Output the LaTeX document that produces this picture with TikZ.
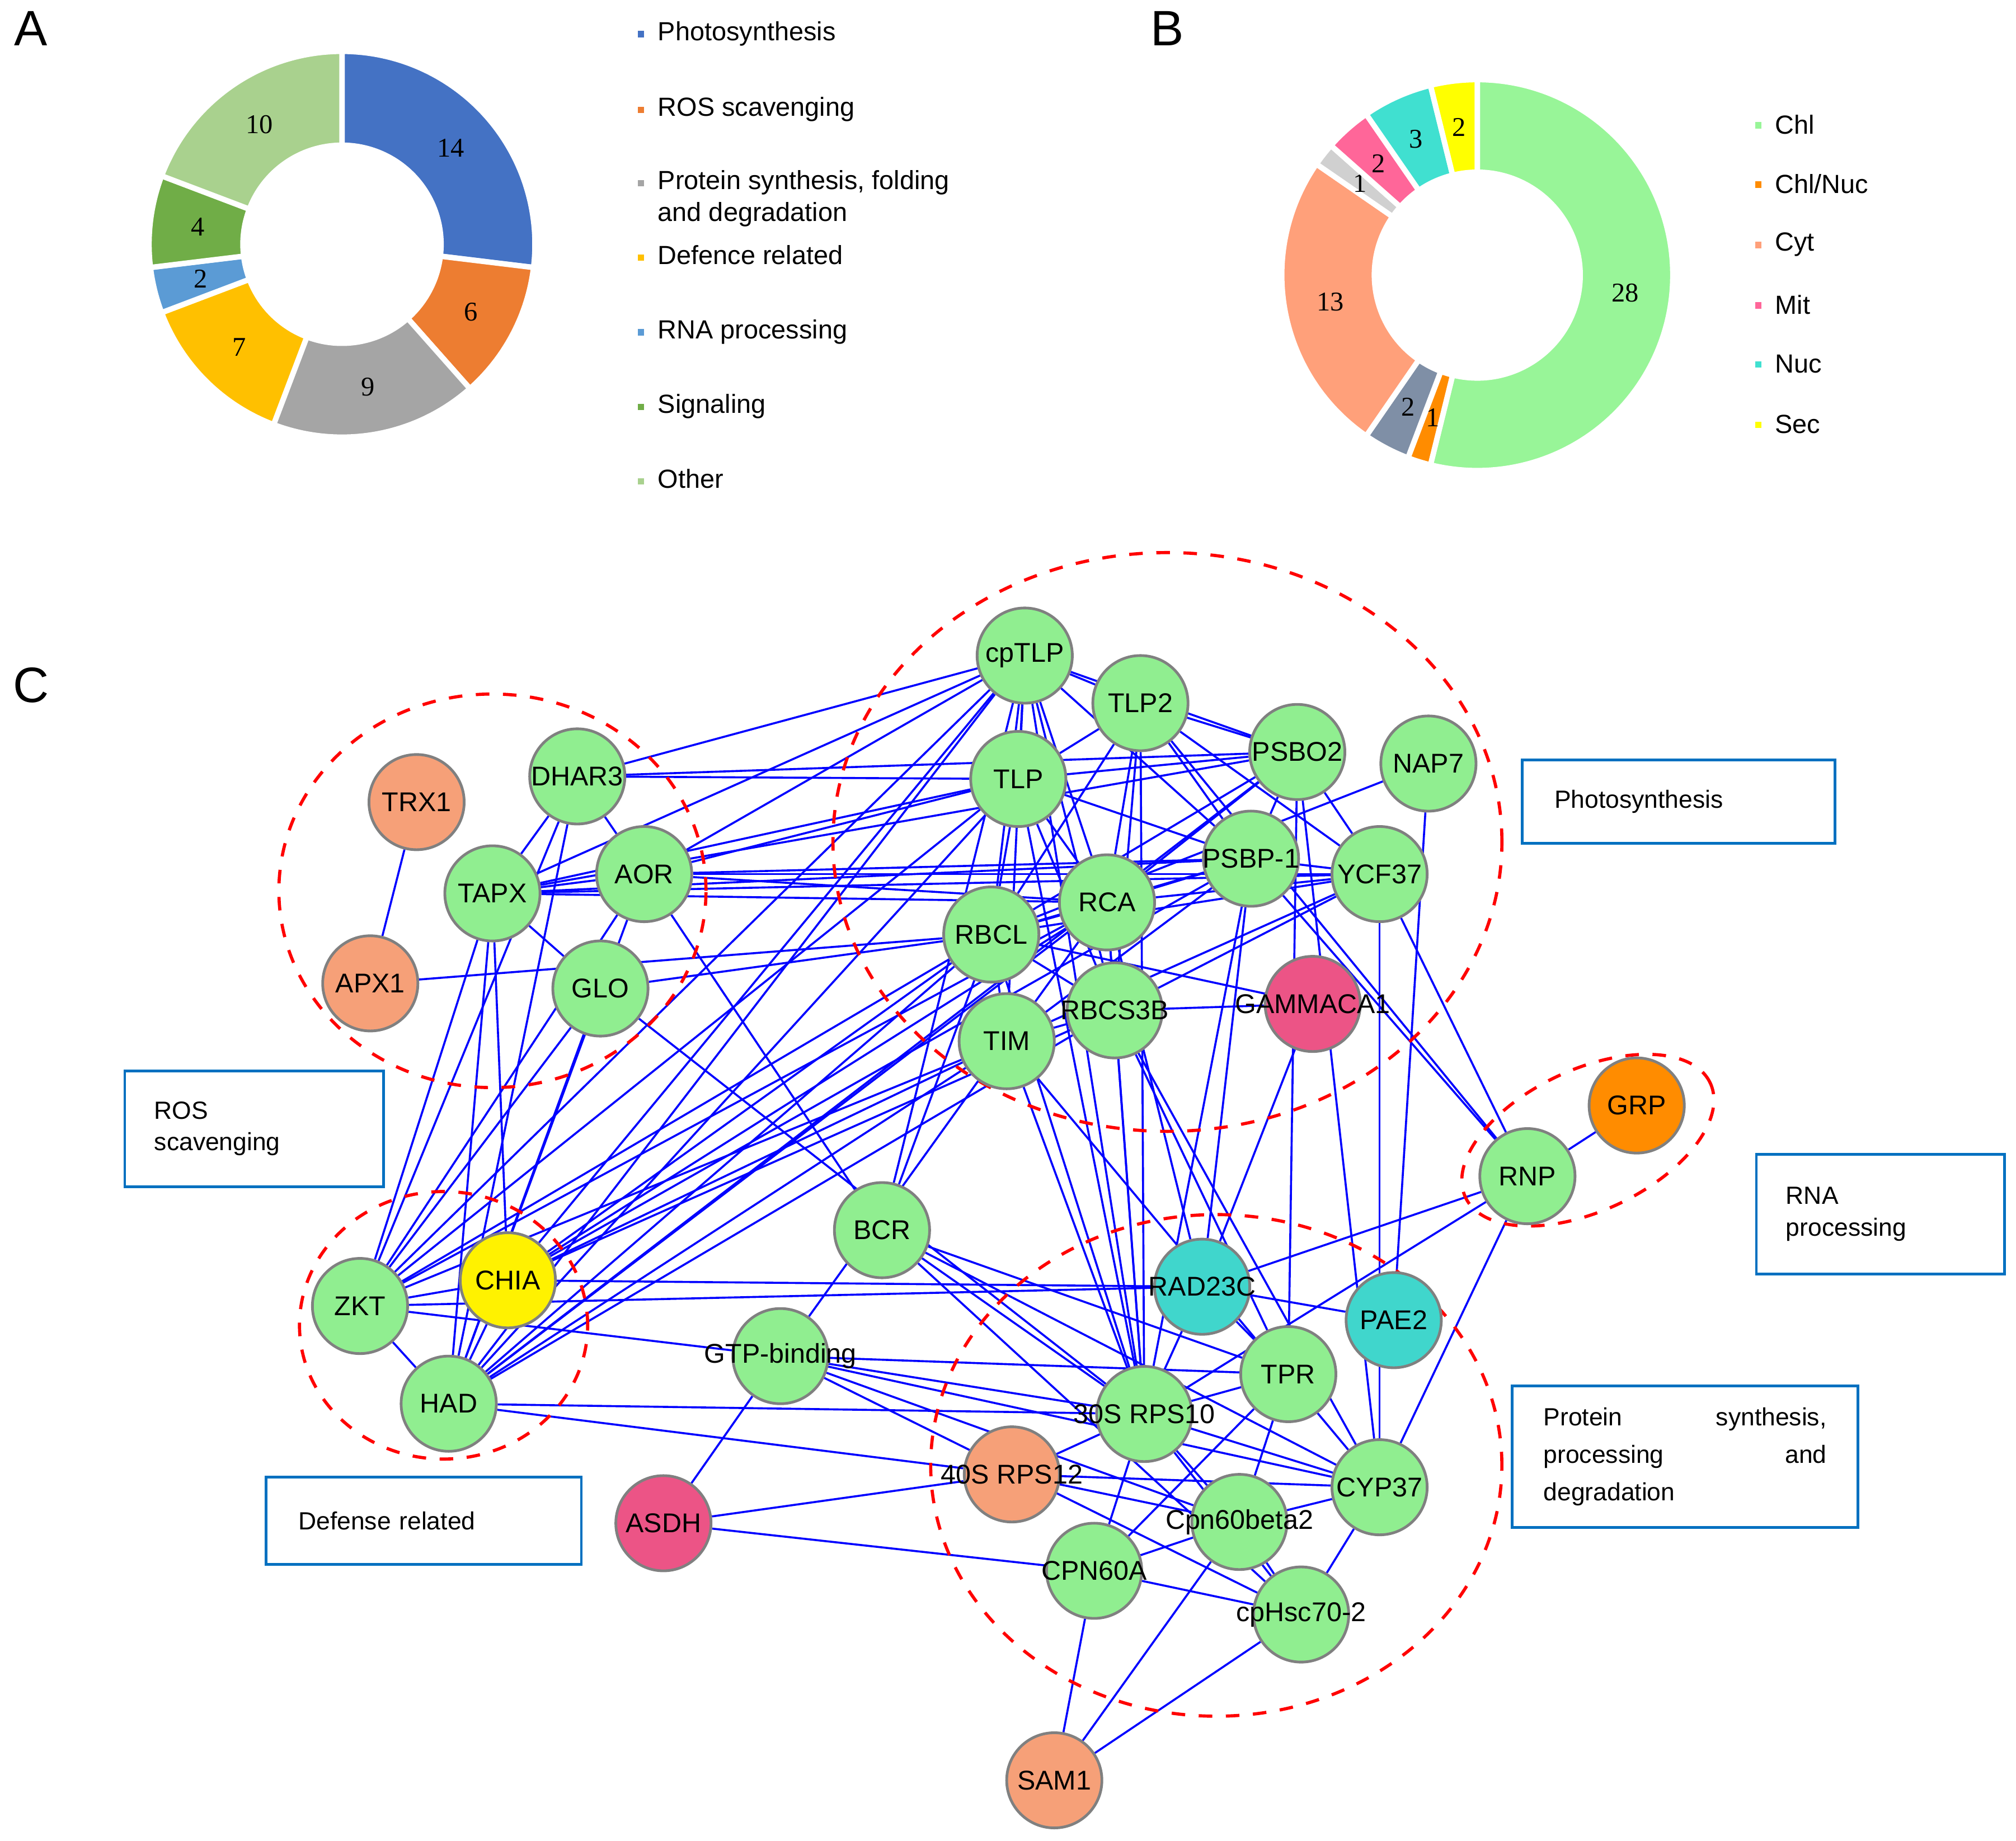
\documentclass[tikz,border=0pt]{standalone}
\usepackage{fontspec}
\setmainfont{Liberation Sans}
\newfontfamily\numfont{Liberation Serif}
\usetikzlibrary{backgrounds,calc}
\definecolor{gnode}{RGB}{144,238,144}
\definecolor{snode}{RGB}{246,160,120}
\definecolor{pnode}{RGB}{236,84,134}
\definecolor{cnode}{RGB}{64,214,204}
\definecolor{onode}{RGB}{255,140,0}
\definecolor{boxblue}{RGB}{0,112,192}
\definecolor{cPhoto}{HTML}{4472C4}
\definecolor{cROS}{HTML}{ED7D31}
\definecolor{cProt}{HTML}{A5A5A5}
\definecolor{cDef}{HTML}{FFC000}
\definecolor{cRNA}{HTML}{5B9BD5}
\definecolor{cSig}{HTML}{70AD47}
\definecolor{cOther}{HTML}{A9D18E}
\definecolor{cChl}{HTML}{98F598}
\definecolor{cChlNuc}{HTML}{FF8C00}
\definecolor{cGrayB}{HTML}{7F8FA6}
\definecolor{cCyt}{HTML}{FFA07A}
\definecolor{cLGray}{HTML}{D0D0D0}
\definecolor{cMit}{HTML}{FF6699}
\definecolor{cNuc}{HTML}{40E0D0}
\definecolor{cSec}{HTML}{FFFF00}
\newcommand\nm[1]{\makebox[0pt]{#1}}
\tikzset{
  prot/.style={circle,draw=gray,line width=0.6pt,minimum size=0.74cm,inner sep=0pt,font=\fontsize{6}{7}\selectfont},
  pgreen/.style={prot,fill=gnode},
  psalmon/.style={prot,fill=snode},
  ppink/.style={prot,fill=pnode},
  pcyan/.style={prot,fill=cnode},
  porange/.style={prot,fill=onode},
  pyellow/.style={prot,fill=yellow},
  link/.style={blue,line width=0.45pt},
  group/.style={red,dashed,line width=0.7pt},
  tag/.style={draw=boxblue,line width=0.6pt,font=\fontsize{5.5}{7}\selectfont,align=left,anchor=north west,inner sep=0pt},
  leg/.style={font=\fontsize{5.8}{7}\selectfont,anchor=west,align=left,inner sep=0pt},
  num/.style={font=\numfont\fontsize{6}{7}\selectfont},
  panel/.style={font=\fontsize{11}{12}\selectfont}
}
\begin{document}
\begin{tikzpicture}[x=0.01cm,y=-0.01cm]
\useasboundingbox (0,0) rectangle (1568,1432);
% panel letters
\node[panel] (la) at (24,22) {A};
\node[panel] (lb) at (908,22) {B};
\node[panel] (lc) at (24,533) {C};
% donut A
\coordinate (ca) at (266,190);
\foreach \a/\b/\col/\n in {90/-6.92/cPhoto/14,-6.92/-48.46/cROS/6,-48.46/-110.77/cProt/9,-110.77/-159.23/cDef/7,-159.23/-173.08/cRNA/2,-173.08/-200.77/cSig/4,-200.77/-270/cOther/10}{
  \fill[\col,draw=white,line width=1.2pt] ($(ca)+(\a:1.5cm)$) arc[start angle=\a,end angle=\b,radius=1.5cm] -- ($(ca)+(\b:0.77cm)$) arc[start angle=\b,end angle=\a,radius=0.77cm] -- cycle;
  \node[num] at ($(ca)+({(\a+\b)/2}:1.13cm)$) {\n};
}
% legend A
\foreach \t/\col/\yy in {Photosynthesis/cPhoto/26,ROS scavenging/cROS/85,{Protein synthesis, folding\\and degradation}/cProt/142,Defence related/cDef/200,RNA processing/cRNA/258,Signaling/cSig/316,Other/cOther/374}{
  \fill[\col] (496,\yy-2) rectangle (501,\yy+3);
  \node[leg,anchor=north west] at (511,\yy-10) {\t};
}
% donut B
\coordinate (cb) at (1149,214);
\foreach \a/\b/\col/\n in {90/-103.85/cChl/28,-103.85/-110.77/cChlNuc/1,-110.77/-124.62/cGrayB/2,-124.62/-214.62/cCyt/13,-214.62/-221.54/cLGray/1,-221.54/-235.38/cMit/2,-235.38/-256.15/cNuc/3,-256.15/-270/cSec/2}{
  \fill[\col,draw=white,line width=1.2pt] ($(cb)+(\a:1.52cm)$) arc[start angle=\a,end angle=\b,radius=1.52cm] -- ($(cb)+(\b:0.8cm)$) arc[start angle=\b,end angle=\a,radius=0.8cm] -- cycle;
  \node[num] at ($(cb)+({(\a+\b)/2}:1.16cm)$) {\n};
}
% legend B
\foreach \t/\col/\yy in {Chl/cChl/97,{Chl/Nuc}/cChlNuc/143,Cyt/cCyt/190,Mit/cMit/237,Nuc/cNuc/283,Sec/cSec/330}{
  \fill[\col] (1365,\yy-2) rectangle (1370,\yy+3);
  \node[leg] at (1380,\yy) {\t};
}
% network nodes
\node[pgreen] (cptlp) at (797,510) {\nm{cpTLP}};
\node[pgreen] (tlp2) at (887,547) {TLP2};
\node[pgreen] (psbo2) at (1009,585) {\nm{PSBO2}};
\node[pgreen] (nap7) at (1111,594) {NAP7};
\node[pgreen] (tlp) at (792,606) {TLP};
\node[pgreen] (dhar3) at (449,604) {\nm{DHAR3}};
\node[psalmon] (trx1) at (324,624) {TRX1};
\node[pgreen] (aor) at (501,680) {AOR};
\node[pgreen] (tapx) at (383,695) {TAPX};
\node[pgreen] (psbp1) at (973,668) {\nm{PSBP-1}};
\node[pgreen] (ycf37) at (1073,680) {\nm{YCF37}};
\node[pgreen] (rca) at (861,702) {RCA};
\node[pgreen] (rbcl) at (771,727) {RBCL};
\node[psalmon] (apx1) at (288,765) {APX1};
\node[pgreen] (glo) at (467,769) {GLO};
\node[ppink] (gammaca1) at (1021,781) {\nm{GAMMACA1}};
\node[pgreen] (rbcs3b) at (867,786) {\nm{RBCS3B}};
\node[pgreen] (tim) at (783,810) {TIM};
\node[porange] (grp) at (1273,860) {GRP};
\node[pgreen] (rnp) at (1188,915) {RNP};
\node[pgreen] (bcr) at (686,957) {BCR};
\node[pyellow] (chia) at (395,996) {CHIA};
\node[pgreen] (zkt) at (280,1016) {ZKT};
\node[pcyan] (rad23c) at (935,1001) {\nm{RAD23C}};
\node[pcyan] (pae2) at (1084,1027) {PAE2};
\node[pgreen] (gtp) at (607,1055) {\nm{GTP-binding}};
\node[pgreen] (tpr) at (1002,1069) {TPR};
\node[pgreen] (had) at (349,1092) {HAD};
\node[pgreen] (rps10) at (890,1100) {\nm{30S RPS10}};
\node[psalmon] (rps12) at (787,1147) {\nm{40S RPS12}};
\node[pgreen] (cyp37) at (1073,1157) {\nm{CYP37}};
\node[ppink] (asdh) at (516,1185) {ASDH};
\node[pgreen] (cpnb) at (964,1184) {\nm{Cpn60beta2}};
\node[pgreen] (cpna) at (851,1222) {\nm{CPN60A}};
\node[pgreen] (hsc) at (1012,1256) {\nm{cpHsc70-2}};
\node[psalmon] (sam1) at (820,1385) {SAM1};
% interactions
\begin{scope}[on background layer]
\foreach \u/\v in {trx1/apx1,apx1/rbcl,
 dhar3/tapx,dhar3/cptlp,dhar3/psbo2,dhar3/tlp,dhar3/zkt,dhar3/had,dhar3/aor,
 tapx/aor,tapx/tlp,tapx/cptlp,tapx/psbo2,tapx/psbp1,tapx/ycf37,tapx/rca,tapx/glo,tapx/zkt,tapx/had,tapx/chia,
 aor/tlp,aor/psbp1,aor/ycf37,aor/rca,aor/zkt,aor/had,aor/bcr,aor/cptlp,
 glo/zkt,glo/had,glo/rps10,glo/rbcl,
 cptlp/tlp2,cptlp/psbo2,cptlp/tlp,cptlp/rca,cptlp/rbcl,cptlp/rbcs3b,cptlp/psbp1,cptlp/zkt,cptlp/had,cptlp/chia,cptlp/bcr,cptlp/rps10,cptlp/tim,
 tlp2/psbo2,tlp2/tlp,tlp2/rca,tlp2/psbp1,tlp2/rbcs3b,tlp2/ycf37,tlp2/rps10,tlp2/rnp,tlp2/rbcl,
 psbo2/tlp,psbo2/psbp1,psbo2/ycf37,psbo2/rca,psbo2/rbcl,psbo2/cyp37,psbo2/tpr,psbo2/had,
 nap7/rbcl,nap7/pae2,
 tlp/rca,tlp/rbcl,tlp/psbp1,tlp/rbcs3b,tlp/rps10,tlp/zkt,tlp/had,
 psbp1/ycf37,psbp1/rca,psbp1/rbcl,psbp1/rad23c,psbp1/tim,psbp1/chia,psbp1/rnp,psbp1/rps10,
 ycf37/rca,ycf37/rbcl,ycf37/rbcs3b,ycf37/tim,ycf37/rnp,ycf37/cyp37,
 rca/rbcl,rca/rbcs3b,rca/tim,rca/zkt,rca/had,rca/chia,rca/rps10,rca/rad23c,
 rbcl/rbcs3b,rbcl/tim,rbcl/gammaca1,rbcl/zkt,rbcl/had,rbcl/chia,rbcl/bcr,rbcl/rps10,
 rbcs3b/tim,rbcs3b/gammaca1,rbcs3b/rps10,rbcs3b/tpr,rbcs3b/cyp37,rbcs3b/had,rbcs3b/chia,
 tim/had,tim/zkt,tim/chia,tim/rps10,tim/gtp,tim/cyp37,
 gammaca1/rad23c,grp/rnp,rnp/rad23c,rnp/cyp37,rnp/rps10,
 bcr/rps10,bcr/cyp37,bcr/hsc,bcr/tpr,
 chia/zkt,chia/had,chia/rad23c,zkt/had,zkt/gtp,zkt/rad23c,had/rps12,had/rps10,
 rad23c/pae2,rad23c/rps10,rad23c/tpr,
 gtp/tpr,gtp/rps10,gtp/asdh,gtp/hsc,gtp/cpnb,gtp/cyp37,
 tpr/rps10,tpr/cpnb,tpr/cpna,
 rps10/rps12,rps10/cyp37,rps10/cpnb,rps10/cpna,rps10/hsc,
 asdh/rps12,asdh/cpna,rps12/cyp37,rps12/cpnb,
 cyp37/cpnb,cyp37/hsc,cpnb/cpna,cpnb/hsc,cpna/hsc,cpna/sam1,hsc/sam1,cpnb/sam1}
  \draw[link] (\u) -- (\v);
% groups
\draw[group] (383,693) ellipse [x radius=1.66cm,y radius=1.53cm];
\draw[group] (908,655) ellipse [x radius=2.6cm,y radius=2.25cm];
\draw[group] (345,1031) ellipse [x radius=1.12cm,y radius=1.04cm];
\draw[group] (1235,887) ellipse [x radius=1.05cm,y radius=0.55cm,rotate=25];
\draw[group] (946,1140) ellipse [x radius=2.22cm,y radius=1.95cm];
\end{scope}
% group labels
\node[tag,minimum width=2.43cm,minimum height=0.65cm,text width=2.43cm] (tphoto) at (1183,590) {\hspace*{0.25cm}Photosynthesis};
\node[tag,minimum width=2.01cm,minimum height=0.9cm,text width=2.01cm] (tros) at (96,832) {\hspace*{0.23cm}ROS\\\hspace*{0.23cm}scavenging};
\node[tag,minimum width=1.93cm,minimum height=0.93cm,text width=1.93cm] (trna) at (1365,897) {\hspace*{0.23cm}RNA\\\hspace*{0.23cm}processing};
\node[tag,minimum width=2.69cm,minimum height=1.1cm,text width=2.69cm,align=center] (tprot) at (1175,1077) {\begin{minipage}{2.2cm}\fontsize{5.5}{8.3}\selectfont Protein\hfill synthesis,\\ processing\hfill and\\ degradation\end{minipage}};
\node[tag,minimum width=2.45cm,minimum height=0.68cm,text width=2.45cm] (tdef) at (206,1148) {\hspace*{0.25cm}Defense related};
\end{tikzpicture}
\end{document}
